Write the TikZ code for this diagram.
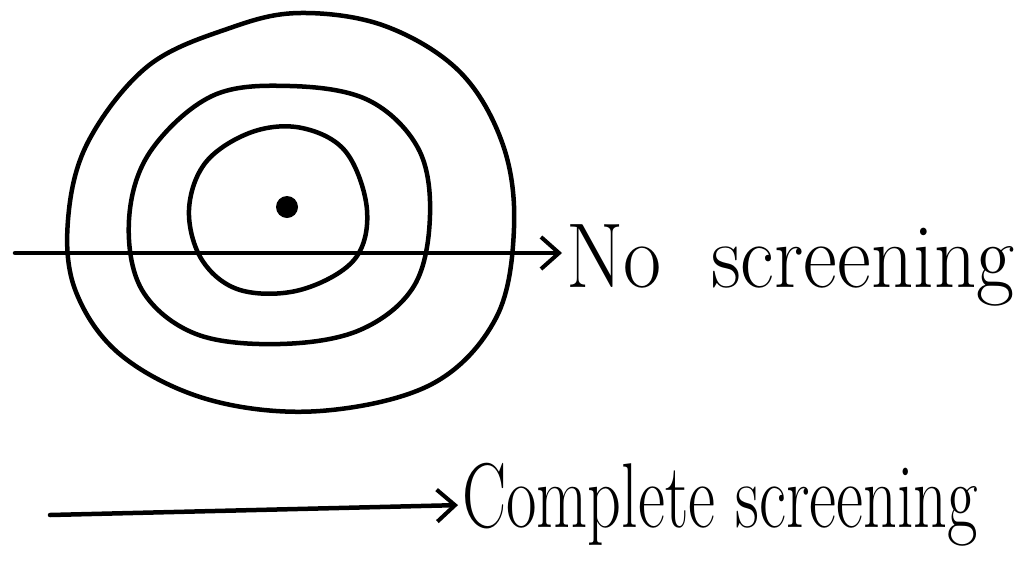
\documentclass[tikz,border=0pt]{standalone}
\usepackage{fontspec}
\usepackage{tikz}
\usetikzlibrary{arrows.meta}

\tikzset{
  handline/.style={line width=4.5pt, line cap=round, line join=round},
  handarrow/.style={handline, -{Straight Barb[length=18pt,width=32pt,line width=4pt]}},
  handtext/.style={font=\fontsize{92}{100}\selectfont, inner sep=0pt, anchor=base west}
}

\begin{document}
\begin{tikzpicture}[x=1pt,y=-1pt]
  \useasboundingbox (0,0) rectangle (1025,563);
  % Rings
  \draw[handline] plot[smooth cycle, tension=0.6] coordinates {(230,28) (300,13) (385,26) (460,72) (503,145) (514,228) (496,318) (432,384) (320,411) (210,400) (122,356) (76,292) (68,220) (88,142) (148,66)};
  \draw[handline] plot[smooth cycle, tension=0.6] coordinates {(212,96) (290,86) (368,100) (418,148) (430,215) (414,286) (360,330) (280,344) (196,334) (142,290) (129,220) (150,152)};
  \draw[handline] plot[smooth cycle, tension=0.6] coordinates {(252,132) (302,128) (346,152) (367,210) (354,260) (300,290) (240,290) (202,260) (189,210) (206,162)};
  % Centre
  \fill (287,207) circle (11);
  % Labels
  \node[handtext, xscale=0.9] (noscr) at (566,287) {No\hspace{0.6em}screening};
  \node[handtext, xscale=0.72] (compscr) at (462,527) {Complete screening};
  % Arrows
  \coordinate (nostart) at (15,253);
  \coordinate (compstart) at (50,515);
  \draw[handarrow, shorten >=4pt] (nostart) -- (nostart -| noscr.west);
  \draw[handarrow, shorten >=4pt] (compstart) -- (compscr.west |- 0,505);
\end{tikzpicture}
\end{document}
